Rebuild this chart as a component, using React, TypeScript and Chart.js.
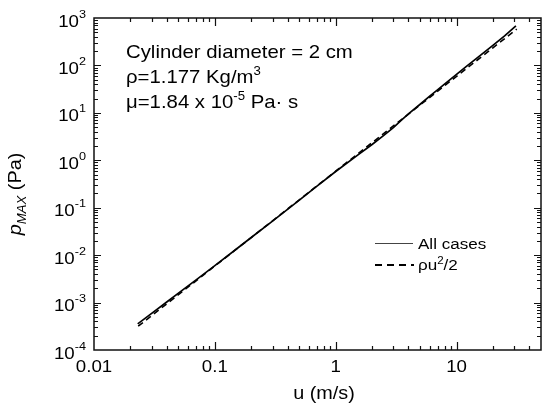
import { useEffect, useRef } from "react";
import { Chart, registerables } from "chart.js";
Chart.register(...registerables);

// ---- data ----
const solidU = [0.023, 0.03, 0.04, 0.05, 0.07, 0.1, 0.15, 0.2, 0.3, 0.5, 0.7, 1, 1.5, 2, 2.5, 3, 3.5, 4, 5, 6, 7, 8, 10, 12, 15, 20, 25, 31];
const solidP = [3.55e-4, 5.9e-4, 1.03e-3, 1.58e-3, 3.0e-3, 6.0e-3, 1.33e-2, 2.35e-2, 5.2e-2, 0.145, 0.285, 0.58, 1.25, 2.15, 3.35, 4.9, 7.0, 9.5, 15.2, 22.5, 31, 41, 65, 94, 148, 265, 418, 680];
const dashedU = [0.0232, 0.05, 0.1, 0.2, 0.5, 1, 2, 5, 10, 20, 31.5];
const dashedP = [3.17e-4, 1.47e-3, 5.9e-3, 2.35e-2, 0.147, 0.59, 2.35, 14.7, 58.9, 235, 584];
const seriesLabels = ["All cases", "ρu²/2"];
const xTickValues = [0.01, 0.1, 1, 10];
const xTickLabels = ["0.01", "0.1", "1", "10"];
const yTickExponents = [-4, -3, -2, -1, 0, 1, 2, 3];

const FONT = '"Liberation Sans", Arial, sans-serif';
const SX = 1.1;

type Seg = { t: string; size: number; dy?: number; italic?: boolean };

function fontOf(s: Seg) {
  return `${s.italic ? "italic " : ""}${s.size}px ${FONT}`;
}

function drawRich(ctx: CanvasRenderingContext2D, segs: Seg[], x: number, y: number, align: "left" | "center" | "right", rotate = 0) {
  const widths = segs.map((s) => {
    ctx.font = fontOf(s);
    return ctx.measureText(s.t).width * SX;
  });
  const total = widths.reduce((a, b) => a + b, 0);
  let cx = align === "left" ? 0 : align === "center" ? -total / 2 : -total;
  ctx.save();
  ctx.translate(x, y);
  if (rotate) ctx.rotate(rotate);
  ctx.textAlign = "left";
  ctx.textBaseline = "alphabetic";
  ctx.fillStyle = "#000";
  segs.forEach((s, i) => {
    ctx.font = fontOf(s);
    ctx.save();
    ctx.translate(cx, s.dy || 0);
    ctx.scale(SX, 1);
    ctx.fillText(s.t, 0, 0);
    ctx.restore();
    cx += widths[i];
  });
  ctx.restore();
}

const decorPlugin = {
  id: "decor",
  afterDraw(chart: any) {
    const ctx: CanvasRenderingContext2D = chart.ctx;
    const xs = chart.scales.x;
    const ys = chart.scales.y;
    const a = chart.chartArea;
    ctx.save();
    ctx.strokeStyle = "#111";
    ctx.lineWidth = 1.5;
    ctx.strokeRect(a.left, a.top, a.right - a.left, a.bottom - a.top);

    ctx.lineWidth = 1.2;
    // x ticks
    const xMin = xs.min, xMax = xs.max;
    for (let e = -2; e <= 1; e++) {
      for (let m = 1; m <= 9; m++) {
        const v = m * Math.pow(10, e);
        if (v <= xMin * 1.0001 || v >= xMax * 0.9999) continue;
        const px = Math.round(xs.getPixelForValue(v)) + 0.5;
        const len = m === 1 ? 8 : 4;
        ctx.beginPath();
        ctx.moveTo(px, a.bottom);
        ctx.lineTo(px, a.bottom - len);
        ctx.moveTo(px, a.top);
        ctx.lineTo(px, a.top + len);
        ctx.stroke();
      }
    }
    // y ticks
    for (let e = -4; e <= 2; e++) {
      for (let m = 1; m <= 9; m++) {
        const v = m * Math.pow(10, e);
        if (v <= ys.min * 1.0001) continue;
        const py = Math.round(ys.getPixelForValue(v)) + 0.5;
        const len = m === 1 ? 7 : 4;
        ctx.beginPath();
        ctx.moveTo(a.left, py);
        ctx.lineTo(a.left + len, py);
        ctx.moveTo(a.right, py);
        ctx.lineTo(a.right - len, py);
        ctx.stroke();
      }
    }
    ctx.restore();

    // x tick labels
    xTickValues.forEach((v, i) => {
      drawRich(ctx, [{ t: xTickLabels[i], size: 17 }], xs.getPixelForValue(v), a.bottom + 22, "center");
    });
    // y tick labels
    yTickExponents.forEach((e) => {
      const py = ys.getPixelForValue(Math.pow(10, e));
      drawRich(ctx, [{ t: "10", size: 17 }, { t: String(e).replace("-", "-"), size: 11.5, dy: -9 }], a.left - 8, py + 8.5, "right");
    });

    // axis titles
    drawRich(ctx, [{ t: "u (m/s)", size: 18 }], 324, 399, "center");
    drawRich(
      ctx,
      [
        { t: "p", size: 18, italic: true },
        { t: "MAX", size: 12, italic: true, dy: 5 },
        { t: " (Pa)", size: 18 },
      ],
      21,
      194,
      "center",
      -Math.PI / 2
    );

    // annotation
    drawRich(ctx, [{ t: "Cylinder diameter = 2 cm", size: 18.5 }], 126, 58, "left");
    drawRich(ctx, [{ t: "ρ=1.177 Kg/m", size: 18.5 }, { t: "3", size: 12, dy: -8 }], 126, 83, "left");
    drawRich(ctx, [{ t: "μ=1.84 x 10", size: 18.5 }, { t: "-5", size: 12, dy: -8 }, { t: " Pa· s", size: 18.5 }], 126, 108, "left");

    // legend
    ctx.save();
    ctx.strokeStyle = "#444";
    ctx.lineWidth = 1;
    ctx.beginPath();
    ctx.moveTo(375, 243.5);
    ctx.lineTo(413, 243.5);
    ctx.stroke();
    ctx.strokeStyle = "#000";
    ctx.lineWidth = 2;
    ctx.setLineDash([7, 5]);
    ctx.beginPath();
    ctx.moveTo(375, 265);
    ctx.lineTo(414, 265);
    ctx.stroke();
    ctx.restore();
    drawRich(ctx, [{ t: seriesLabels[0], size: 15.5 }], 418, 248.5, "left");
    drawRich(ctx, [{ t: "ρu", size: 15.5 }, { t: "2", size: 10.5, dy: -6 }, { t: "/2", size: 15.5 }], 418, 270, "left");
  },
};

export default function App() {
  const ref = useRef<HTMLCanvasElement>(null);
  useEffect(() => {
    if (!ref.current) return;
    const chart = new Chart(ref.current, {
      type: "line",
      data: {
        datasets: [
          {
            label: seriesLabels[0],
            data: solidU.map((u, i) => ({ x: u, y: solidP[i] })),
            borderColor: "#000",
            borderWidth: 1.7,
            pointRadius: 0,
            tension: 0,
            fill: false,
          },
          {
            label: seriesLabels[1],
            data: dashedU.map((u, i) => ({ x: u, y: dashedP[i] })),
            borderColor: "#000",
            borderWidth: 1.6,
            borderDash: [6, 4],
            pointRadius: 0,
            tension: 0,
            fill: false,
          },
        ],
      },
      options: {
        animation: false,
        responsive: false,
        maintainAspectRatio: false,
        layout: { padding: { left: 94, right: 1, top: 18, bottom: 57 } },
        scales: {
          x: { type: "logarithmic", min: 0.01, max: 50, display: false },
          y: { type: "logarithmic", min: 1e-4, max: 1e3, display: false },
        },
        plugins: { legend: { display: false }, tooltip: { enabled: false } },
      },
      plugins: [decorPlugin],
    } as any);
    return () => chart.destroy();
  }, []);
  return (
    <div style={{ position: "absolute", left: 0, top: 0, width: 542, height: 407, background: "#fff" }}>
      <canvas ref={ref} width={542} height={407} style={{ display: "block", width: 542, height: 407 }} />
    </div>
  );
}
